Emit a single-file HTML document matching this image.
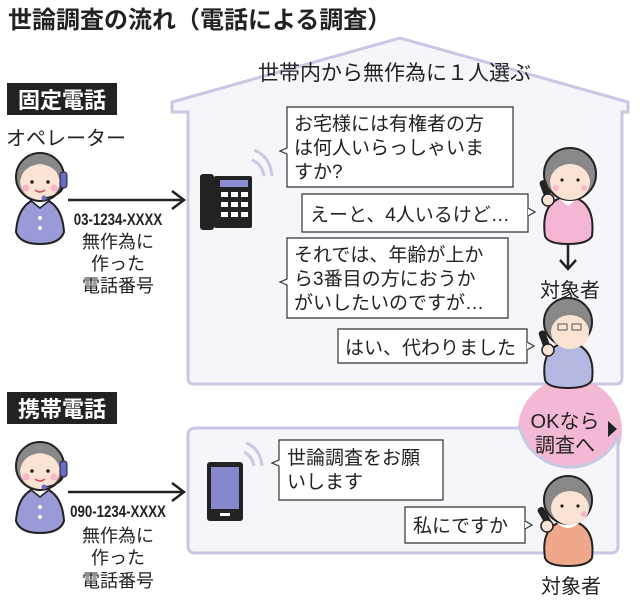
<!DOCTYPE html>
<html><head><meta charset="utf-8"><style>
html,body{margin:0;padding:0;background:#fff;}
svg{display:block;}
text{font-family:"Liberation Sans","Noto Sans CJK JP",sans-serif;fill:#222;}
</style></head><body>
<svg width="640" height="606" viewBox="0 0 640 606" xmlns="http://www.w3.org/2000/svg">
<defs>
<g id="op">
  <path d="M8 80 Q10 50 32 46 Q54 50 56 80 Q52 92 32 92 Q12 92 8 80Z" fill="#9a9ad8" stroke="#222" stroke-width="2"/>
  <path d="M22 48 L32 56 L42 48" fill="#fff" stroke="#222" stroke-width="1.5"/>
  <circle cx="32" cy="66" r="2" fill="#fff"/><circle cx="32" cy="76" r="2" fill="#fff"/>
  <circle cx="32" cy="25" r="24" fill="#888" stroke="#222" stroke-width="2"/>
  <path d="M12 30 Q14 14 32 12 Q50 14 52 30 Q50 46 32 48 Q14 46 12 30Z" fill="#fbe3d4"/>
  <circle cx="24" cy="30" r="1.8" fill="#222"/><circle cx="40" cy="30" r="1.8" fill="#222"/>
  <circle cx="18" cy="36" r="3.5" fill="#f6b8c8"/><circle cx="46" cy="36" r="3.5" fill="#f6b8c8"/>
  <path d="M27 38 Q32 42 37 38" stroke="#d05070" stroke-width="1.5" fill="none"/>
  <rect x="52" y="20" width="7" height="16" rx="3" fill="#6a6ac8" stroke="#222"/>
  <path d="M55 36 Q52 44 36 46" stroke="#222" stroke-width="1.5" fill="none"/><circle cx="36" cy="46" r="2.5" fill="#6a6ac8"/>
</g>
</defs>

<text x="8" y="28" font-size="24" font-weight="bold">世論調査の流れ（電話による調査）</text>

<!-- house -->
<path d="M172 112 L172 102 L400 38 L628 102 L628 112 L622 112 L622 378 Q622 384 616 384 L194 384 Q188 384 188 378 L188 112 Z" fill="#f5f5fa" stroke="#c8c8e4" stroke-width="3"/>
<text x="258" y="80" font-size="21">世帯内から無作為に１人選ぶ</text>

<rect x="7" y="83" width="110" height="32" fill="#222"/>
<text x="18" y="108" font-size="22" font-weight="bold" style="fill:#fff">固定電話</text>
<text x="6" y="145" font-size="20">オペレーター</text>
<use href="#op" x="8" y="152"/>
<line x1="68" y1="200" x2="182" y2="200" stroke="#222" stroke-width="2.5"/>
<path d="M172 191 L184 200 L172 209" fill="none" stroke="#222" stroke-width="2.5"/>
<text x="118" y="225" font-size="17" font-weight="bold" text-anchor="middle" transform="translate(118 0) scale(0.78 1) translate(-118 0)">03-1234-XXXX</text>
<g font-size="18" text-anchor="middle"><text x="118" y="248">無作為に</text><text x="118" y="270">作った</text><text x="118" y="292">電話番号</text></g>

<!-- desk phone -->
<rect x="200" y="174" width="14" height="56" rx="3" fill="#222"/>
<rect x="214" y="176" width="38" height="52" rx="2" fill="#222"/>
<rect x="220" y="180" width="28" height="7" fill="#8c8cd0"/>
<g fill="#fff"><rect x="221" y="192" width="7" height="5"/><rect x="231" y="192" width="7" height="5"/><rect x="241" y="192" width="7" height="5"/><rect x="221" y="202" width="7" height="5"/><rect x="231" y="202" width="7" height="5"/><rect x="241" y="202" width="7" height="5"/><rect x="221" y="212" width="7" height="5"/><rect x="231" y="212" width="7" height="5"/><rect x="241" y="212" width="7" height="5"/></g>
<g fill="none" stroke="#c8c8e4" stroke-width="3"><path d="M252 160 Q262 164 264 176"/><path d="M254 150 Q270 156 272 176"/></g>

<!-- bubbles -->
<g fill="#fff" stroke="#333" stroke-width="1.2">
<path d="M287 107 H513 V187 H287 V154 L280 151 L287 148 Z"/>
<path d="M302 194 H528 V232 H302 Z"/><path d="M528 208 L535 212 L528 216" />
<path d="M287 238 H508 V318 H287 V285 L280 282 L287 279 Z"/>
<path d="M338 329 H527 V363 H338 Z"/><path d="M527 342 L534 346 L527 350"/>
</g>
<g font-size="19">
<text x="294" y="130">お宅様には有権者の方</text><text x="294" y="154">は何人いらっしゃいま</text><text x="294" y="178">すか?</text>
<text x="310" y="221">えーと、4人いるけど…</text>
<text x="294" y="261">それでは、年齢が上か</text><text x="294" y="285">ら3番目の方におうか</text><text x="294" y="309">がいしたいのですが…</text>
<text x="345" y="354">はい、代わりました</text>
</g>

<!-- person 1 grandma -->
<g>
<path d="M545 236 Q540 200 568 196 Q596 200 592 236 Q588 244 568 244 Q548 244 545 236Z" fill="#f4b6d2" stroke="#222" stroke-width="2"/>
<path d="M558 198 L568 206 L578 198" fill="#fff"/>
<circle cx="570" cy="174" r="26" fill="#888" stroke="#222" stroke-width="2"/>
<ellipse cx="570" cy="182" rx="20" ry="18" fill="#fbe3d4"/>
<circle cx="562" cy="180" r="1.6" fill="#222"/><circle cx="578" cy="180" r="1.6" fill="#222"/>
<circle cx="556" cy="188" r="3" fill="#f6b8c8"/><circle cx="584" cy="188" r="3" fill="#f6b8c8"/>
<rect x="542" y="180" width="7" height="22" rx="3" fill="#222" transform="rotate(-20 545 190)"/>
<circle cx="548" cy="200" r="6" fill="#fbe3d4" stroke="#222" stroke-width="1.5"/>
</g>
<line x1="568" y1="245" x2="568" y2="268" stroke="#222" stroke-width="2.5"/>
<path d="M560 260 L568 269 L576 260" fill="none" stroke="#222" stroke-width="2.5"/>
<text x="570" y="297" font-size="20" text-anchor="middle">対象者</text>

<!-- pink circle -->
<circle cx="570" cy="430" r="52" fill="#f3b8d4"/>
<!-- person 2 glasses -->
<g>
<path d="M545 380 Q540 346 568 342 Q596 346 592 380 Q588 388 568 388 Q548 388 545 380Z" fill="#b4b8e0" stroke="#222" stroke-width="2"/>
<circle cx="568" cy="322" r="24" fill="#888" stroke="#222" stroke-width="2"/>
<ellipse cx="570" cy="332" rx="19" ry="17" fill="#fbe3d4"/>
<rect x="558" y="324" width="9" height="6" fill="none" stroke="#555"/><rect x="572" y="324" width="9" height="6" fill="none" stroke="#555"/>
<rect x="541" y="330" width="7" height="22" rx="3" fill="#222" transform="rotate(-20 545 340)"/>
<circle cx="548" cy="350" r="6" fill="#fbe3d4" stroke="#222" stroke-width="1.5"/>
</g>
<g font-size="20" text-anchor="middle"><text x="565" y="428">OKなら</text><text x="565" y="452">調査へ</text></g>
<path d="M608 421 L617 429 L608 437 Z" fill="#222"/>

<!-- mobile -->
<rect x="7" y="392" width="110" height="32" fill="#222"/>
<text x="18" y="417" font-size="22" font-weight="bold" style="fill:#fff">携帯電話</text>
<use href="#op" x="8" y="441"/>
<line x1="68" y1="492" x2="182" y2="492" stroke="#222" stroke-width="2.5"/>
<path d="M172 483 L184 492 L172 501" fill="none" stroke="#222" stroke-width="2.5"/>
<text x="118" y="517" font-size="17" font-weight="bold" text-anchor="middle" transform="translate(118 0) scale(0.78 1) translate(-118 0)">090-1234-XXXX</text>
<g font-size="18" text-anchor="middle"><text x="118" y="542">無作為に</text><text x="118" y="564">作った</text><text x="118" y="587">電話番号</text></g>

<path d="M196 428 H520 A52 52 0 0 0 618 436 V546 Q618 553 611 553 H195 Q188 553 188 546 V435 Q188 428 196 428Z" fill="#f5f5fa" stroke="#c8c8e4" stroke-width="3"/>
<rect x="207" y="462" width="36" height="59" rx="3" fill="#222"/>
<rect x="211" y="467" width="28" height="42" fill="#8686cc"/>
<rect x="220" y="513" width="10" height="3" fill="#fff"/>
<g fill="none" stroke="#c8c8e4" stroke-width="3"><path d="M244 452 Q252 456 254 466"/><path d="M246 443 Q260 448 262 466"/></g>

<g fill="#fff" stroke="#333" stroke-width="1.2">
<path d="M279 440 H443 V500 H279 V466 L272 463 L279 460 Z"/>
<path d="M405 507 H525 V543 H405 Z"/><path d="M525 521 L532 525 L525 529"/>
</g>
<g font-size="19"><text x="287" y="464">世論調査をお願</text><text x="287" y="488">いします</text><text x="413" y="532">私にですか</text></g>

<!-- person 3 -->
<g>
<path d="M545 558 Q540 524 568 520 Q596 524 592 558 Q588 566 568 566 Q548 566 545 558Z" fill="#f0a88c" stroke="#222" stroke-width="2"/>
<path d="M556 522 Q568 534 580 522" fill="#fff"/>
<circle cx="568" cy="500" r="24" fill="#888" stroke="#222" stroke-width="2"/>
<ellipse cx="570" cy="508" rx="19" ry="17" fill="#fbe3d4"/>
<circle cx="562" cy="506" r="1.6" fill="#222"/><circle cx="578" cy="506" r="1.6" fill="#222"/>
<circle cx="584" cy="514" r="3" fill="#f6b8c8"/>
<rect x="541" y="506" width="7" height="22" rx="3" fill="#222" transform="rotate(-30 545 516)"/>
<circle cx="547" cy="526" r="6" fill="#fbe3d4" stroke="#222" stroke-width="1.5"/>
</g>
<text x="571" y="593" font-size="20" text-anchor="middle">対象者</text>
</svg>
</body></html>
